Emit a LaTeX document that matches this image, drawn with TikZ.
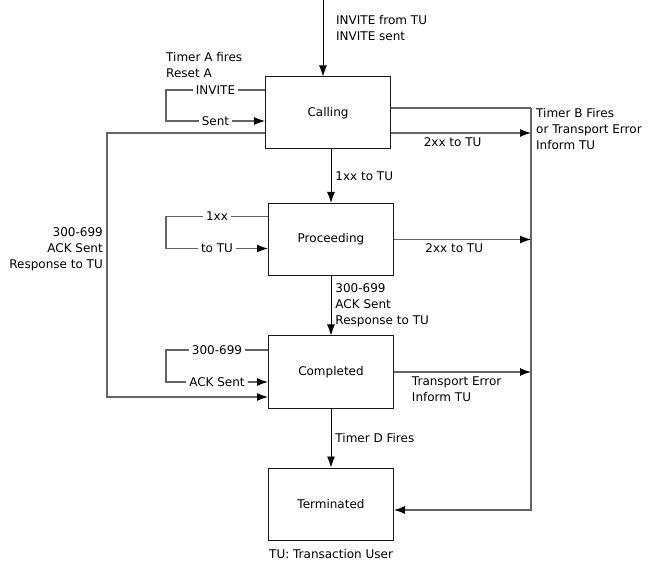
\documentclass[tikz,border=0pt]{standalone}
\usepackage{fontspec}
\setmainfont{DejaVu Sans}
\usetikzlibrary{arrows.meta,positioning,calc}
\definecolor{wiregray}{RGB}{100,100,100}
\definecolor{boxblack}{RGB}{25,25,25}

\begin{document}
\begin{tikzpicture}[x=1pt, y=-1pt,
    state/.style={rectangle, draw=boxblack, line width=1pt, minimum width=125pt,
                  minimum height=72pt, font=\fontsize{12}{16}\selectfont},
    lbl/.style={font=\fontsize{12}{16}\selectfont, inner sep=1pt},
    onwire/.style={lbl, fill=white, inner sep=3pt},
    wire/.style={draw=wiregray, line width=1.1pt},
    arr/.style={wire, -{Latex[length=11pt,width=8pt,color=black]}},
    darr/.style={draw=black, line width=0.9pt, -{Latex[length=11pt,width=8pt]}}
]
\useasboundingbox (0,0) rectangle (649,567);

% States
\node[state] (calling) at (328, 113) {Calling};
\node[state] (proceeding) at (331, 239.5) {Proceeding};
\node[state] (completed) at (331, 372) {Completed};
\node[state] (terminated) at (331, 504) {Terminated};

% Entry
\coordinate (src) at (323, 0);
\draw[darr] (src) -- (src |- calling.north);
\node[lbl, anchor=west, align=left] (entry) at (335, 28) {INVITE from TU\\INVITE sent};

% Main downward transitions
\draw[darr] (calling.south -| proceeding.north) -- node[lbl, right=3pt] (t1xx) {1xx to TU} (proceeding.north);
\draw[darr] (proceeding.south) -- node[lbl, right=3pt, align=left] (t3xx) {300-699\\ACK Sent\\Response to TU} (completed.north);
\draw[darr] (completed.south) -- node[lbl, right=3pt] (ttimerd) {Timer D Fires} (terminated.north);

% Self loops
\coordinate (loopA) at (166, 0);
\draw[arr] ([yshift=23pt]calling.west) -- node[onwire] {INVITE} ([yshift=23pt]calling.west -| loopA)
    -- ([yshift=-8pt]calling.west -| loopA) -- node[onwire] {Sent} ([yshift=-8pt]calling.west);
\node[lbl, anchor=west, align=left] (timera) at (165, 65) {Timer A fires\\Reset A};

\draw[arr] ([yshift=23pt]proceeding.west) -- node[onwire] {1xx} ([yshift=23pt]proceeding.west -| loopA)
    -- ([yshift=-9pt]proceeding.west -| loopA) -- node[onwire] {to TU} ([yshift=-9pt]proceeding.west);

\draw[arr] ([yshift=22pt]completed.west) -- node[onwire] {300-699} ([yshift=22pt]completed.west -| loopA)
    -- ([yshift=-10pt]completed.west -| loopA) -- node[onwire] {ACK Sent} ([yshift=-10pt]completed.west);

% Long loop on the left
\coordinate (loopB) at (107, 0);
\draw[arr] ([yshift=-20pt]calling.west) -- ([yshift=-20pt]calling.west -| loopB)
    -- ([yshift=-25pt]completed.west -| loopB) -- ([yshift=-25pt]completed.west);
\node[lbl, anchor=east, align=right] (tleft) at (104, 249) {300-699\\ACK Sent\\Response to TU};

% Right bus to Terminated
\coordinate (bustop) at (531, 108);
\coordinate (busbot) at (531, 510);
\draw[wire] (calling.east |- bustop) -- (bustop);
\draw[arr] (bustop) -- (busbot) -- (terminated.east |- busbot);
\node[lbl, anchor=west, align=left] (ttimerb) at (535, 129) {Timer B Fires\\or Transport Error\\Inform TU};

\draw[arr] ([yshift=-20pt]calling.east) -- node[lbl, below=3pt, pos=.44] (t2xxa) {2xx to TU} ([yshift=-20pt]calling.east -| bustop);
\draw[arr] (proceeding.east) -- node[lbl, below=3pt, pos=.44] (t2xxb) {2xx to TU} (proceeding.east -| bustop);
\draw[arr] (completed.east) -- node[lbl, anchor=north west, align=left, pos=.12, yshift=-3pt] (terr) {Transport Error\\Inform TU} (completed.east -| bustop);

% Legend
\node[lbl, anchor=north west] (legend) at ([yshift=-8pt]terminated.south west) {TU: Transaction User};
\end{tikzpicture}
\end{document}
